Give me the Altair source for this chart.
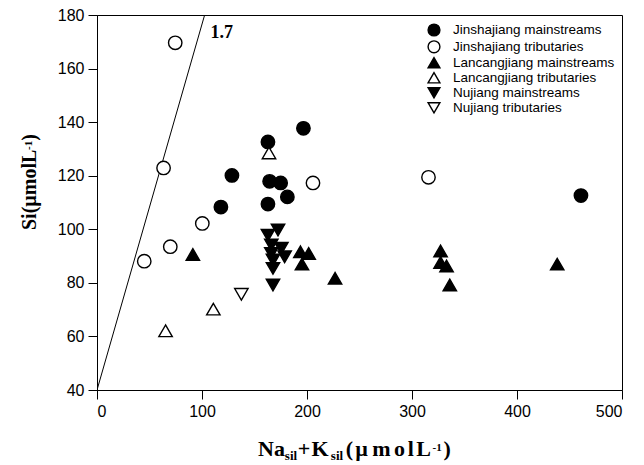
import altair as alt
import pandas as pd

# ---------------- data ----------------
groups = ["Jinshajiang mainstreams", "Jinshajiang tributaries",
          "Lancangjiang mainstreams", "Lancangjiang tributaries",
          "Nujiang mainstreams", "Nujiang tributaries"]
shapes = ["circle", "circle", "triangle-up", "triangle-up", "triangle-down", "triangle-down"]
fills = ["black", "white", "black", "white", "black", "white"]
strokes = ["black"] * 6

jm_x = [162.8, 196.6, 128.5, 164.4, 174.9, 181.3, 162.8, 118.0, 460.9]
jm_y = [132.6, 137.7, 120.1, 117.9, 117.3, 112.1, 109.4, 108.3, 112.6]

jt_x = [74.5, 63.4, 205.7, 100.3, 69.8, 45.0, 315.7]
jt_y = [169.6, 122.9, 117.3, 102.2, 93.5, 88.1, 119.4]

lm_x = [91.3, 193.7, 201.6, 195.2, 226.7, 327.2, 327.2, 332.9, 336.0, 438.3]
lm_y = [90.6, 91.6, 91.0, 87.0, 81.7, 91.9, 87.6, 86.3, 79.2, 87.0]

lt_x = [163.8, 65.3, 110.8]
lt_y = [128.5, 62.1, 70.2]

nm_x = [172.4, 162.8, 166.0, 175.6, 166.0, 178.7, 167.6, 167.6, 167.6]
nm_y = [99.7, 97.8, 94.1, 92.9, 91.0, 89.7, 88.5, 85.4, 79.2]

nt_x = [137.5]
nt_y = [75.7]

line_x = [0, 102.5]
line_y = [40, 180]

ann_x = [108]
ann_y = [171.4]
ann_text = ["1.7"]

x_ticks = [0, 100, 200, 300, 400, 500]
y_ticks = [40, 60, 80, 100, 120, 140, 160, 180]

rows = []
for g, xs, ys in zip(groups, [jm_x, jt_x, lm_x, lt_x, nm_x, nt_x],
                     [jm_y, jt_y, lm_y, lt_y, nm_y, nt_y]):
    for a, b in zip(xs, ys):
        rows.append({"group": g, "nak": a, "si": b})
df = pd.DataFrame(rows)

SERIF = "Liberation Serif"
SANS = "Liberation Sans"

xscale = alt.Scale(domain=[0, 500], nice=False, zero=False)
yscale = alt.Scale(domain=[40, 180], nice=False, zero=False)
x_axis = alt.Axis(values=x_ticks, title=None, format="d")
y_axis = alt.Axis(values=y_ticks, title=None, format="d")

line = alt.Chart(pd.DataFrame({"nak": line_x, "si": line_y})).mark_line(
    color="black", strokeWidth=1, clip=True
).encode(
    x=alt.X("nak:Q", scale=xscale, axis=x_axis),
    y=alt.Y("si:Q", scale=yscale, axis=y_axis),
)

leg = alt.Legend(title=None, symbolStrokeWidth=1.4, labelLimit=400)

points = alt.Chart(df).mark_point(
    filled=True, size=180, strokeWidth=1.4, opacity=1
).encode(
    x=alt.X("nak:Q", scale=xscale, axis=x_axis),
    y=alt.Y("si:Q", scale=yscale, axis=y_axis),
    shape=alt.Shape("group:N", scale=alt.Scale(domain=groups, range=shapes), legend=leg),
    fill=alt.Fill("group:N", scale=alt.Scale(domain=groups, range=fills), legend=leg),
    stroke=alt.Stroke("group:N", scale=alt.Scale(domain=groups, range=strokes), legend=leg),
)

ann = alt.Chart(pd.DataFrame({"nak": ann_x, "si": ann_y, "t": ann_text})).mark_text(
    font=SERIF, fontSize=18, fontWeight="bold", align="left", baseline="alphabetic", color="black"
).encode(
    x=alt.X("nak:Q", scale=xscale, axis=x_axis),
    y=alt.Y("si:Q", scale=yscale, axis=y_axis),
    text="t:N",
)

dummy = pd.DataFrame({"d": [0]})


def seg(text, x, y, size, angle=0, align="left"):
    return alt.Chart(dummy).mark_text(
        text=text, font=SERIF, fontSize=size, fontWeight="bold",
        align=align, baseline="alphabetic", angle=angle, color="black"
    ).encode(x=alt.value(x), y=alt.value(y))


# x-axis title pieces: Na_sil + K_sil (µmolL^-1), centred on the glyph centres
ox = 97
xb, xsub, xsup = 440.7, 444.7, 436.3
F = 22
xt = [
    seg("Na", 271.5 - ox, xb, F, align="center"),
    seg("sil", 291 - ox, xsub, 13, align="center"),
    seg("+", 303.9 - ox, xb, F, align="center"),
    seg("K", 320 - ox, xb, F, align="center"),
    seg("sil", 337 - ox, xsub, 13, align="center"),
    seg("(", 349.5 - ox, xb, F, align="center"),
    seg("µ", 361.7 - ox, xb, F, align="center"),
    seg("m", 381.3 - ox, xb, F, align="center"),
    seg("o", 399.5 - ox, xb, F, align="center"),
    seg("l", 410.8 - ox, xb, F, align="center"),
    seg("L", 423.7 - ox, xb, F, align="center"),
    seg("-1", 437.2 - ox, xsup, 11, align="center"),
    seg(")", 447.2 - ox, xb, F, align="center"),
]
# y-axis title pieces: Si(µmolL^-1), rotated
yt = [
    seg("Si(µmolL", -61, 215, 20, 270),
    seg("-1", -65.4, 135, 11, 270),
    seg(")", -61, 125.8, 20, 270),
]

chart = alt.layer(line, points, ann, *xt, *yt).properties(
    width=525, height=375,
    padding={"left": 97, "top": 15, "right": 22, "bottom": 75},
    autosize=alt.AutoSizeParams(type="none"),
).configure_view(
    stroke="black", strokeWidth=1
).configure_axis(
    domainColor="black", domainWidth=1, tickColor="black", tickWidth=1, tickSize=9,
    labelFont=SANS, labelFontSize=16, labelColor="black", labelPadding=4, grid=False,
).configure_legend(
    orient="none", legendX=330, legendY=8, padding=0,
    labelFont=SANS, labelFontSize=13.5, labelColor="black", labelOffset=12,
    symbolSize=140, rowPadding=-1.2, labelLimit=400,
)

chart.save("out.html", embed_options={"renderer": "svg", "actions": False})
